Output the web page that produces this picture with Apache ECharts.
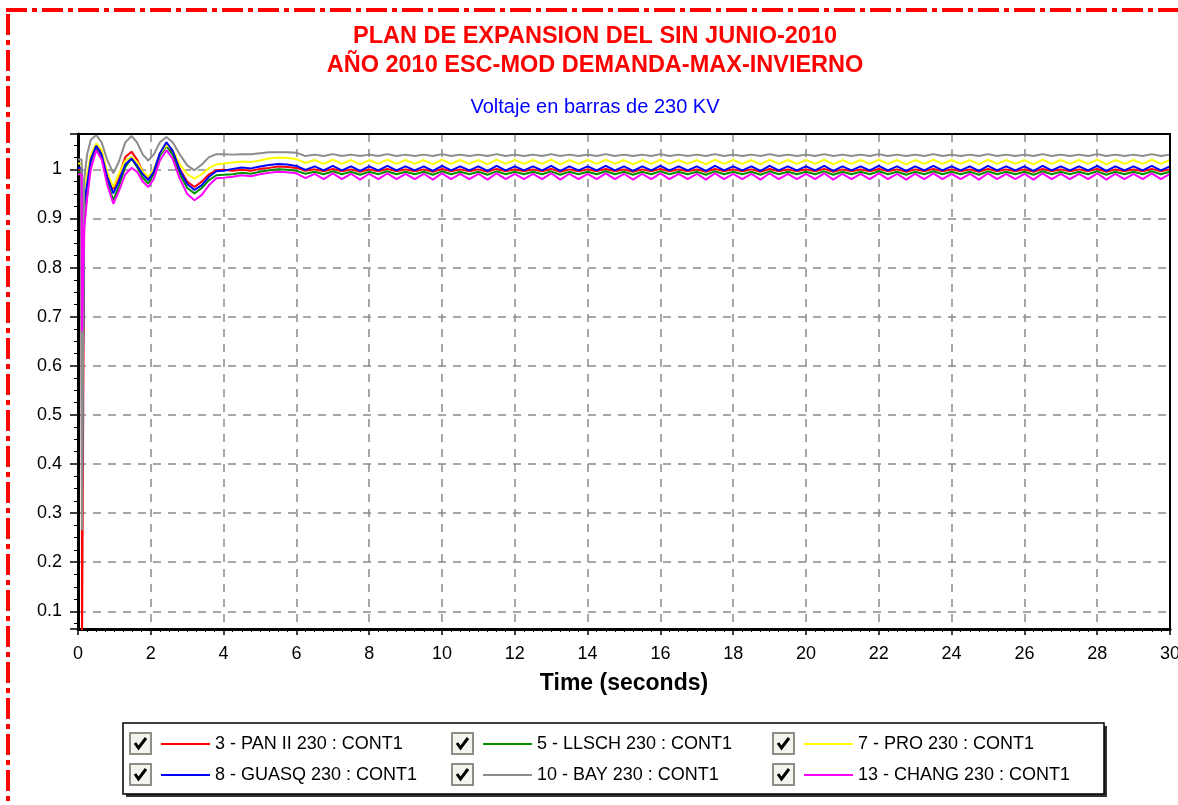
<!DOCTYPE html>
<html>
<head>
<meta charset="utf-8">
<script src="https://cdn.jsdelivr.net/npm/echarts@6/dist/echarts.min.js"></script>
<style>
html,body{margin:0;padding:0;background:#fff;}
#chart{width:1178px;height:805px;}
</style>
</head>
<body>
<div id="chart"></div>
<script>
// ---------------- DATA ----------------
const titleLines = ['PLAN DE EXPANSION DEL SIN JUNIO-2010', 'AÑO 2010 ESC-MOD DEMANDA-MAX-INVIERNO'];
const subtitle = 'Voltaje en barras de 230 KV';
const xAxisName = 'Time (seconds)';

const seriesNames = [
  '3 - PAN II 230 : CONT1',
  '5 - LLSCH 230 : CONT1',
  '7 - PRO 230 : CONT1',
  '8 - GUASQ 230 : CONT1',
  '10 - BAY 230 : CONT1',
  '13 - CHANG 230 : CONT1'
];

// time samples of the transient (fault, clearing and swings)
const transientTimes = [0, 0.1, 0.11, 0.16, 0.17, 0.25, 0.35, 0.5, 0.65, 0.8, 0.97, 1.12, 1.3, 1.47, 1.62, 1.78, 1.93, 2.08, 2.25, 2.43, 2.6, 2.8, 3.0, 3.2, 3.4, 3.6, 3.8];
// time samples of the sustained oscillation (peaks / troughs)
const oscTimes = [
  4, 4.25, 4.5, 4.75, 5, 5.25, 5.5, 5.75, 6, 6.25,
  6.5, 6.75, 7, 7.25, 7.5, 7.75, 8, 8.25, 8.5, 8.75,
  9, 9.25, 9.5, 9.75, 10, 10.25, 10.5, 10.75, 11, 11.25,
  11.5, 11.75, 12, 12.25, 12.5, 12.75, 13, 13.25, 13.5, 13.75,
  14, 14.25, 14.5, 14.75, 15, 15.25, 15.5, 15.75, 16, 16.25,
  16.5, 16.75, 17, 17.25, 17.5, 17.75, 18, 18.25, 18.5, 18.75,
  19, 19.25, 19.5, 19.75, 20, 20.25, 20.5, 20.75, 21, 21.25,
  21.5, 21.75, 22, 22.25, 22.5, 22.75, 23, 23.25, 23.5, 23.75,
  24, 24.25, 24.5, 24.75, 25, 25.25, 25.5, 25.75, 26, 26.25,
  26.5, 26.75, 27, 27.25, 27.5, 27.75, 28, 28.25, 28.5, 28.75,
  29, 29.25, 29.5, 29.75, 30
];

// 3 - PAN II
const panTransient = [1.0, 1.0, 0.02, 0.02, 0.89, 0.95, 1.02, 1.048, 1.035, 0.99, 0.96, 0.985, 1.025, 1.036, 1.02, 0.995, 0.98, 0.995, 1.03, 1.05, 1.035, 1.0, 0.975, 0.964, 0.975, 0.99, 0.998];
const panOsc = [
  0.999,0.997,0.999,0.997,1.001,1.003,1.006,1.005,1.003,0.997,
  1.000,0.996,1.001,0.996,1.000,0.995,1.000,0.996,1.001,0.996,
  1.000,0.996,1.000,0.995,1.001,0.996,1.000,0.996,1.000,0.995,
  1.001,0.996,1.000,0.996,1.000,0.996,1.001,0.995,1.000,0.996,
  1.000,0.996,1.001,0.996,1.000,0.995,1.000,0.996,1.001,0.996,
  1.000,0.996,1.000,0.995,1.001,0.996,1.000,0.996,1.000,0.995,
  1.001,0.996,1.000,0.996,1.000,0.996,1.001,0.995,1.000,0.996,
  1.000,0.996,1.001,0.996,1.000,0.995,1.000,0.996,1.001,0.996,
  1.000,0.996,1.000,0.995,1.001,0.996,1.000,0.996,1.000,0.995,
  1.001,0.996,1.000,0.996,1.000,0.996,1.001,0.995,1.000,0.996,
  1.000,0.996,1.001,0.996,1.000
];

// 5 - LLSCH
const llschTransient = [0.995, 0.995, 0.40, 0.40, 0.91, 0.96, 1.015, 1.044, 1.025, 0.975, 0.937, 0.965, 1.005, 1.022, 1.005, 0.983, 0.971, 0.99, 1.028, 1.047, 1.03, 0.99, 0.962, 0.951, 0.962, 0.978, 0.988];
const llschOsc = [
  0.989,0.990,0.993,0.991,0.995,0.998,1.000,0.999,0.997,0.991,
  0.995,0.990,0.996,0.990,0.995,0.989,0.995,0.990,0.996,0.990,
  0.995,0.990,0.995,0.989,0.996,0.990,0.995,0.990,0.995,0.989,
  0.996,0.990,0.995,0.990,0.995,0.990,0.996,0.989,0.995,0.990,
  0.995,0.990,0.996,0.990,0.995,0.989,0.995,0.990,0.996,0.990,
  0.995,0.990,0.995,0.989,0.996,0.990,0.995,0.990,0.995,0.989,
  0.996,0.990,0.995,0.990,0.995,0.990,0.996,0.989,0.995,0.990,
  0.995,0.990,0.996,0.990,0.995,0.989,0.995,0.990,0.996,0.990,
  0.995,0.990,0.995,0.989,0.996,0.990,0.995,0.990,0.995,0.989,
  0.996,0.990,0.995,0.990,0.995,0.990,0.996,0.989,0.995,0.990,
  0.995,0.990,0.996,0.990,0.995
];

// 7 - PRO
const proTransient = [1.012, 1.012, 0.50, 0.50, 0.96, 0.99, 1.03, 1.053, 1.04, 0.995, 0.964, 0.99, 1.018, 1.025, 1.015, 0.995, 0.985, 1.0, 1.032, 1.05, 1.04, 1.01, 0.99, 0.981, 0.99, 1.003, 1.01];
const proOsc = [
  1.012,1.014,1.016,1.015,1.018,1.022,1.024,1.023,1.021,1.013,
  1.019,1.011,1.020,1.011,1.019,1.010,1.019,1.011,1.020,1.011,
  1.019,1.011,1.019,1.010,1.020,1.011,1.019,1.011,1.019,1.010,
  1.020,1.011,1.019,1.011,1.019,1.011,1.020,1.010,1.019,1.011,
  1.019,1.011,1.020,1.011,1.019,1.010,1.019,1.011,1.020,1.011,
  1.019,1.011,1.019,1.010,1.020,1.011,1.019,1.011,1.019,1.010,
  1.020,1.011,1.019,1.011,1.019,1.011,1.020,1.010,1.019,1.011,
  1.019,1.011,1.020,1.011,1.019,1.010,1.019,1.011,1.020,1.011,
  1.019,1.011,1.019,1.010,1.020,1.011,1.019,1.011,1.019,1.010,
  1.020,1.011,1.019,1.011,1.019,1.011,1.020,1.010,1.019,1.011,
  1.019,1.011,1.020,1.011,1.019
];

// 8 - GUASQ
const guasqTransient = [1.003, 1.003, 0.35, 0.35, 0.93, 0.97, 1.02, 1.048, 1.03, 0.985, 0.951, 0.975, 1.01, 1.022, 1.008, 0.99, 0.978, 0.995, 1.033, 1.055, 1.038, 0.998, 0.97, 0.958, 0.968, 0.985, 0.996];
const guasqOsc = [
  0.997,1.001,1.004,1.002,1.006,1.009,1.011,1.010,1.007,0.999,
  1.006,0.998,1.007,0.998,1.006,0.997,1.006,0.998,1.007,0.998,
  1.006,0.998,1.006,0.997,1.007,0.998,1.006,0.998,1.006,0.997,
  1.007,0.998,1.006,0.998,1.006,0.998,1.007,0.997,1.006,0.998,
  1.006,0.998,1.007,0.998,1.006,0.997,1.006,0.998,1.007,0.998,
  1.006,0.998,1.006,0.997,1.007,0.998,1.006,0.998,1.006,0.997,
  1.007,0.998,1.006,0.998,1.006,0.998,1.007,0.997,1.006,0.998,
  1.006,0.998,1.007,0.998,1.006,0.997,1.006,0.998,1.007,0.998,
  1.006,0.998,1.006,0.997,1.007,0.998,1.006,0.998,1.006,0.997,
  1.007,0.998,1.006,0.998,1.006,0.998,1.007,0.997,1.006,0.998,
  1.006,0.998,1.007,0.998,1.006
];

// 10 - BAY
const bayTransient = [1.02, 1.02, 0.265, 0.265, 0.98, 1.03, 1.06, 1.07, 1.055, 1.02, 0.992, 1.015, 1.055, 1.068, 1.055, 1.03, 1.018, 1.03, 1.055, 1.066, 1.055, 1.03, 1.008, 0.998, 1.01, 1.025, 1.031];
const bayOsc = [
  1.031,1.030,1.031,1.031,1.033,1.035,1.035,1.035,1.034,1.027,
  1.030,1.027,1.031,1.027,1.030,1.027,1.030,1.027,1.031,1.027,
  1.030,1.027,1.030,1.027,1.031,1.027,1.030,1.027,1.030,1.027,
  1.031,1.027,1.030,1.027,1.030,1.027,1.031,1.027,1.030,1.027,
  1.030,1.027,1.031,1.027,1.030,1.027,1.030,1.027,1.031,1.027,
  1.030,1.027,1.030,1.027,1.031,1.027,1.030,1.027,1.030,1.027,
  1.031,1.027,1.030,1.027,1.030,1.027,1.031,1.027,1.030,1.027,
  1.030,1.027,1.031,1.027,1.030,1.027,1.030,1.027,1.031,1.027,
  1.030,1.027,1.030,1.027,1.031,1.027,1.030,1.027,1.030,1.027,
  1.031,1.027,1.030,1.027,1.030,1.027,1.031,1.027,1.030,1.027,
  1.030,1.027,1.031,1.027,1.030
];

// 13 - CHANG
const changTransient = [0.99, 0.99, 0.67, 0.67, 0.88, 0.94, 1.0, 1.039, 1.02, 0.97, 0.93, 0.955, 0.99, 1.003, 0.995, 0.975, 0.964, 0.98, 1.018, 1.039, 1.022, 0.98, 0.95, 0.937, 0.948, 0.968, 0.982];
const changOsc = [
  0.983,0.985,0.988,0.986,0.990,0.993,0.995,0.994,0.992,0.982,
  0.991,0.980,0.992,0.980,0.991,0.979,0.991,0.980,0.992,0.980,
  0.991,0.980,0.991,0.979,0.992,0.980,0.991,0.980,0.991,0.979,
  0.992,0.980,0.991,0.980,0.991,0.980,0.992,0.979,0.991,0.980,
  0.991,0.980,0.992,0.980,0.991,0.979,0.991,0.980,0.992,0.980,
  0.991,0.980,0.991,0.979,0.992,0.980,0.991,0.980,0.991,0.979,
  0.992,0.980,0.991,0.980,0.991,0.980,0.992,0.979,0.991,0.980,
  0.991,0.980,0.992,0.980,0.991,0.979,0.991,0.980,0.992,0.980,
  0.991,0.980,0.991,0.979,0.992,0.980,0.991,0.980,0.991,0.979,
  0.992,0.980,0.991,0.980,0.991,0.980,0.992,0.979,0.991,0.980,
  0.991,0.980,0.992,0.980,0.991
];

// ---------------- BUILD ----------------
const FONT = '"Liberation Sans", Arial, sans-serif';
const X_MIN = 0, X_MAX = 30, Y_MIN = 0.064, Y_MAX = 1.072;
const times = transientTimes.concat(oscTimes);
const seriesValues = [
  panTransient.concat(panOsc),
  llschTransient.concat(llschOsc),
  proTransient.concat(proOsc),
  guasqTransient.concat(guasqOsc),
  bayTransient.concat(bayOsc),
  changTransient.concat(changOsc)
];
const seriesColors = ['#ff0000', '#009000', '#ffff00', '#0000ff', '#8c8c8c', '#ff00ff'];

const series = seriesNames.map((name, i) => ({
  name: name,
  type: 'line',
  xAxisIndex: 0,
  yAxisIndex: 0,
  data: times.map((t, k) => [t, seriesValues[i][k]]),
  symbol: 'none',
  showSymbol: false,
  color: seriesColors[i],
  itemStyle: { color: seriesColors[i] },
  lineStyle: { color: seriesColors[i], width: 2 },
  clip: true,
  animation: false,
  z: 3 + i
}));

const legendCols = [
  { left: 161, data: [seriesNames[0], seriesNames[3]] },
  { left: 483, data: [seriesNames[1], seriesNames[4]] },
  { left: 804, data: [seriesNames[2], seriesNames[5]] }
];
const legends = legendCols.map(c => ({
  left: c.left, top: 734, orient: 'vertical', padding: 0,
  itemWidth: 49, itemHeight: 2, itemGap: 11, icon: 'rect',
  selectedMode: false, z: 10,
  textStyle: { fontSize: 18, color: '#000', fontFamily: FONT, lineHeight: 20 },
  data: c.data
}));

// decorations: red dash-dot frame, legend box, checkboxes
const graphics = [
  { type: 'line', z: 1, shape: { x1: 6, y1: 10, x2: 1178, y2: 10 },
    style: { stroke: '#ff0000', lineWidth: 4, lineDash: [21, 5, 5, 5] } },
  { type: 'line', z: 1, shape: { x1: 8, y1: 14, x2: 8, y2: 805 },
    style: { stroke: '#ff0000', lineWidth: 4, lineDash: [21, 5, 5, 5] } },
  { type: 'rect', z: 1, shape: { x: 126, y: 726, width: 981, height: 71 }, style: { fill: '#333' } },
  { type: 'rect', z: 2, shape: { x: 123, y: 723, width: 981, height: 71 },
    style: { fill: '#fff', stroke: '#000', lineWidth: 1.5 } }
];
[130, 452, 773].forEach(cx => {
  [733, 764].forEach(cy => {
    graphics.push({ type: 'rect', z: 3, shape: { x: cx, y: cy, width: 21, height: 21 },
      style: { fill: '#f4f4ee', stroke: '#8e8e86', lineWidth: 2 } });
    graphics.push({ type: 'polyline', z: 4,
      shape: { points: [[cx + 5, cy + 10], [cx + 8.5, cy + 15], [cx + 16, cy + 5]] },
      style: { stroke: '#000', lineWidth: 3, fill: null } });
  });
});

const splitStyle = { color: '#8a8a8a', width: 1.5, type: [8, 7] };

// frame-only axes (top and right edges of the plot box)
const frameAxis = {
  axisLine: { show: true, onZero: false, lineStyle: { color: '#000', width: 2 } },
  axisTick: { show: false }, axisLabel: { show: false }, splitLine: { show: false }, minorTick: { show: false }
};

const option = {
  backgroundColor: '#fff',
  animation: false,
  title: [
    { text: titleLines.join('\n'), left: 595, top: 22, padding: 0, textAlign: 'center',
      textStyle: { fontSize: 23.5, fontWeight: 'bold', color: '#ff0000', fontFamily: FONT, lineHeight: 29 } },
    { text: subtitle, left: 595, top: 97, padding: 0, textAlign: 'center',
      textStyle: { fontSize: 20, fontWeight: 'normal', color: '#0000ff', fontFamily: FONT, lineHeight: 20 } }
  ],
  legend: legends,
  graphic: graphics,
  grid: { left: 78, right: 8, top: 134, bottom: 176, show: true, borderWidth: 0,
    backgroundColor: '#fff', containLabel: false, outerBoundsMode: 'none' },
  xAxis: [{
    type: 'value', min: X_MIN, max: X_MAX, interval: 2, position: 'bottom',
    name: xAxisName, nameLocation: 'middle', nameGap: 43,
    nameTextStyle: { fontSize: 23, fontWeight: 'bold', color: '#000', fontFamily: FONT },
    axisLine: { show: true, onZero: false, lineStyle: { color: '#000', width: 3 } },
    axisTick: { show: true, length: 6, lineStyle: { color: '#000', width: 1.5 } },
    minorTick: { show: true, splitNumber: 8, length: 3, lineStyle: { color: '#000', width: 1 } },
    axisLabel: { fontSize: 18, color: '#000', margin: 16, fontFamily: FONT },
    splitLine: { show: true, lineStyle: splitStyle },
    z: 2
  }, Object.assign({ type: 'value', min: X_MIN, max: X_MAX, position: 'top', z: 20 }, frameAxis)],
  yAxis: [{
    type: 'value', min: Y_MIN, max: Y_MAX, splitNumber: 10, position: 'left',
    axisLine: { show: true, onZero: false, lineStyle: { color: '#000', width: 3 } },
    axisTick: { show: true, length: 8, lineStyle: { color: '#000', width: 1.5 } },
    minorTick: { show: true, splitNumber: 4, length: 4, lineStyle: { color: '#000', width: 1 } },
    axisLabel: { fontSize: 18, color: '#000', margin: 16, fontFamily: FONT, showMinLabel: false, showMaxLabel: false },
    splitLine: { show: true, lineStyle: splitStyle },
    z: 2
  }, Object.assign({ type: 'value', min: Y_MIN, max: Y_MAX, position: 'right', z: 20 }, frameAxis)],
  series: series
};

const chart = echarts.init(document.getElementById('chart'), null, { renderer: 'canvas' });
chart.setOption(option);
</script>
</body>
</html>
